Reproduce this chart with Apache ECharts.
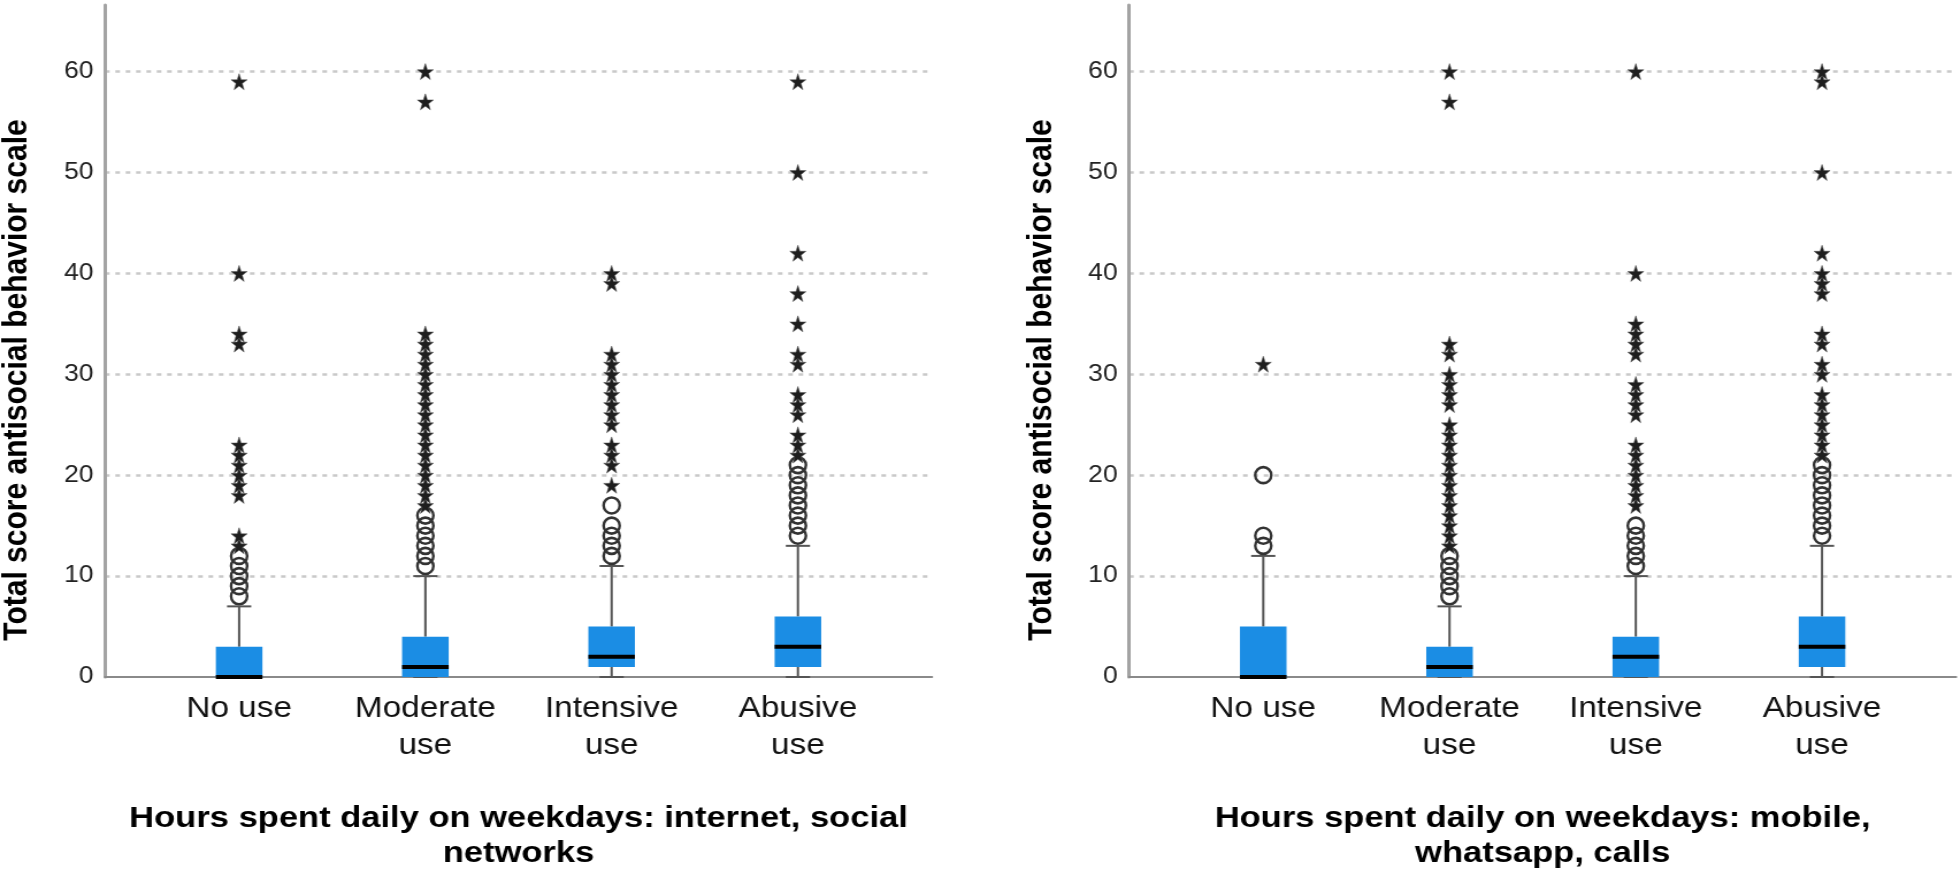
<!DOCTYPE html>
<html>
<head>
<meta charset="utf-8">
<script src="https://cdn.jsdelivr.net/npm/echarts@6/dist/echarts.min.js"></script>
<style>
html,body{margin:0;padding:0;background:#fff;overflow:hidden;}
#c{width:1704px;height:876px;transform:scaleX(1.1502);transform-origin:0 0;}
</style>
</head>
<body>
<div id="c"></div>
<script>
// ---------- data ----------
const categories = ['No use', 'Moderate\nuse', 'Intensive\nuse', 'Abusive\nuse'];
const yTicks = [0, 10, 20, 30, 40, 50, 60];

const yTitle = 'Total score antisocial behavior scale';
const leftTitle = 'Hours spent daily on weekdays: internet, social\nnetworks';
const rightTitle = 'Hours spent daily on weekdays: mobile,\nwhatsapp, calls';

// [lower whisker, Q1, median, Q3, upper whisker]
const leftBoxes = [
  [0, 0, 0, 3, 7],
  [0, 0, 1, 4, 10],
  [0, 1, 2, 5, 11],
  [0, 1, 3, 6, 13]
];
const rightBoxes = [
  [0, 0, 0, 5, 12],
  [0, 0, 1, 3, 7],
  [0, 0, 2, 4, 10],
  [0, 1, 3, 6, 13]
];

// outliers (circles) and extremes (stars) per category
const leftCircles = [
  [8, 9, 10, 11, 12],
  [11, 12, 13, 14, 15, 16],
  [12, 13, 14, 15, 17],
  [14, 15, 16, 17, 18, 19, 20, 21]
];
const leftStars = [
  [13, 14, 18, 19, 20, 21, 22, 23, 33, 34, 40, 59],
  [17, 18, 19, 20, 21, 22, 23, 24, 25, 26, 27, 28, 29, 30, 31, 32, 33, 34, 57, 60],
  [19, 21, 22, 23, 25, 26, 27, 28, 29, 30, 31, 32, 39, 40],
  [22, 23, 24, 26, 27, 28, 31, 32, 35, 38, 42, 50, 59]
];
const rightCircles = [
  [13, 14, 20],
  [8, 9, 10, 11, 12],
  [11, 12, 13, 14, 15],
  [14, 15, 16, 17, 18, 19, 20, 21]
];
const rightStars = [
  [31],
  [13, 14, 15, 16, 17, 18, 19, 20, 21, 22, 23, 24, 25, 27, 28, 29, 30, 32, 33, 57, 60],
  [17, 18, 19, 20, 21, 22, 23, 26, 27, 28, 29, 32, 33, 34, 35, 40, 60],
  [22, 23, 24, 25, 26, 27, 28, 30, 31, 33, 34, 38, 39, 40, 42, 50, 59, 60]
];

// ---------- styles ----------
const FONT = "'Liberation Sans', Arial, Helvetica, sans-serif";
const BOX_COLOR = '#1b8de4';
const BOX_W = 0.25;   // in category units
const CAP_W = 0.13;
const STAR = 'path://M50,0 L61.8,35.1 L98.9,35.5 L69.1,57.6 L80.2,93 L50,71.5 L19.8,93 L30.9,57.6 L1.1,35.5 L38.2,35.1 Z';

function renderBox(params, api) {
  const x = api.value(0);
  const pMin = api.coord([x, api.value(1)]);
  const pQ1 = api.coord([x, api.value(2)]);
  const pMed = api.coord([x, api.value(3)]);
  const pQ3 = api.coord([x, api.value(4)]);
  const pMax = api.coord([x, api.value(5)]);
  const w = api.size([BOX_W, 0])[0];
  const cw = api.size([CAP_W, 0])[0];
  const lineStyle = { stroke: '#555', lineWidth: 2 };
  return {
    type: 'group',
    children: [
      { type: 'line', shape: { x1: pMax[0], y1: pMax[1], x2: pQ3[0], y2: pQ3[1] }, style: lineStyle },
      { type: 'line', shape: { x1: pQ1[0], y1: pQ1[1], x2: pMin[0], y2: pMin[1] }, style: lineStyle },
      { type: 'line', shape: { x1: pMax[0] - cw / 2, y1: pMax[1], x2: pMax[0] + cw / 2, y2: pMax[1] }, style: lineStyle },
      { type: 'line', shape: { x1: pMin[0] - cw / 2, y1: pMin[1], x2: pMin[0] + cw / 2, y2: pMin[1] }, style: lineStyle },
      { type: 'rect', shape: { x: pQ3[0] - w / 2, y: pQ3[1], width: w, height: Math.max(pQ1[1] - pQ3[1], 0) }, style: { fill: BOX_COLOR } },
      { type: 'line', shape: { x1: pMed[0] - w / 2, y1: pMed[1], x2: pMed[0] + w / 2, y2: pMed[1] }, style: { stroke: '#000', lineWidth: 4 } }
    ]
  };
}

function makeXAxis(gridIndex, title) {
  return {
    type: 'value', gridIndex: gridIndex, min: 0.28, max: 4.72,
    axisLine: { show: true, onZero: false, lineStyle: { color: '#8a8a8a', width: 2 } },
    axisTick: { show: false },
    splitLine: { show: false },
    axisLabel: {
      customValues: [1, 2, 3, 4],
      formatter: function (v) { return categories[Math.round(v) - 1] || ''; },
      fontFamily: FONT, fontSize: 29, lineHeight: 37, color: '#111', margin: 13
    },
    name: title, nameLocation: 'middle', nameGap: 124,
    nameTextStyle: { fontFamily: FONT, fontSize: 30, fontWeight: 'bold', lineHeight: 35, color: '#000' }
  };
}
function makeYAxis(gridIndex) {
  return {
    type: 'value', gridIndex: gridIndex, min: 0, max: 66.6, interval: 10,
    axisLine: { show: true, lineStyle: { color: '#a3a3a3', width: 3 } },
    axisTick: { show: false },
    axisLabel: {
      customValues: yTicks,
      fontFamily: FONT, fontSize: 23, color: '#222', margin: 10
    },
    splitLine: { show: true, showMinLine: false, showMaxLine: false, lineStyle: { color: '#c9c9c9', width: 2.5, type: [4, 5] } }
  };
}
function outlierSeries(idx, list, symbol, style, size) {
  const data = [];
  list.forEach(function (arr, i) { arr.forEach(function (v) { data.push([i + 1, v]); }); });
  return {
    type: 'scatter', xAxisIndex: idx, yAxisIndex: idx, data: data,
    symbol: symbol, symbolSize: size, itemStyle: style, z: 5, silent: true
  };
}

const chart = echarts.init(document.getElementById('c'), null, { renderer: 'canvas' });
const circleStyle = { color: 'rgba(0,0,0,0)', borderColor: '#333', borderWidth: 2.5, opacity: 1 };
const starStyle = { color: '#1e1e1e', borderColor: '#555', borderWidth: 0.5, opacity: 1 };

chart.setOption({
  animation: false,
  backgroundColor: '#fff',
  grid: [
    { left: 91.3, top: 5, width: 719, height: 673.5 },
    { left: 981.7, top: 5, width: 719, height: 673.5 }
  ],
  xAxis: [makeXAxis(0, leftTitle), makeXAxis(1, rightTitle)],
  yAxis: [makeYAxis(0), makeYAxis(1)],
  graphic: [
    { type: 'text', x: 15, y: 380, rotation: Math.PI / 2,
      style: { text: yTitle, fontFamily: FONT, fontSize: 30, fontWeight: 'bold', fill: '#000', align: 'center', verticalAlign: 'middle' } },
    { type: 'text', x: 906, y: 380, rotation: Math.PI / 2,
      style: { text: yTitle, fontFamily: FONT, fontSize: 30, fontWeight: 'bold', fill: '#000', align: 'center', verticalAlign: 'middle' } }
  ],
  series: [
    { type: 'custom', xAxisIndex: 0, yAxisIndex: 0, renderItem: renderBox, z: 3,
      data: leftBoxes.map(function (b, i) { return [i + 1].concat(b); }) },
    { type: 'custom', xAxisIndex: 1, yAxisIndex: 1, renderItem: renderBox, z: 3,
      data: rightBoxes.map(function (b, i) { return [i + 1].concat(b); }) },
    outlierSeries(0, leftCircles, 'circle', circleStyle, [14, 16]),
    outlierSeries(0, leftStars, STAR, starStyle, [14, 16]),
    outlierSeries(1, rightCircles, 'circle', circleStyle, [14, 16]),
    outlierSeries(1, rightStars, STAR, starStyle, [14, 16])
  ]
});
</script>
</body>
</html>
